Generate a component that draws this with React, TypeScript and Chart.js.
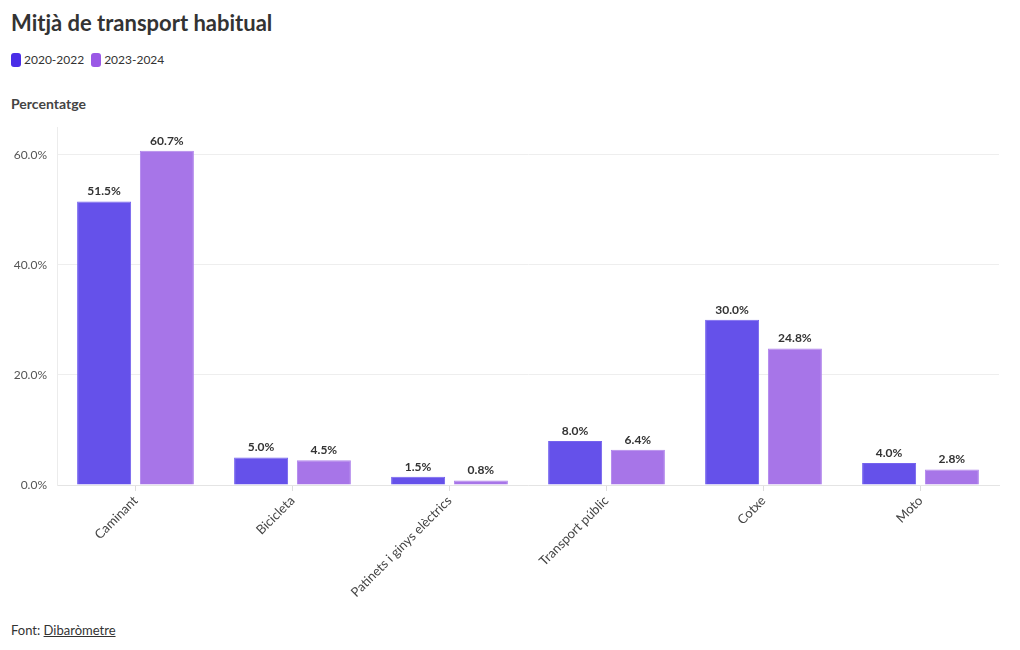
import React, { useEffect, useRef } from "react";
import { Chart, registerables } from "chart.js";

Chart.register(...registerables);

const categories = ["Caminant", "Bicicleta", "Patinets i ginys elèctrics", "Transport públic", "Cotxe", "Moto"];
const series2020 = [51.5, 5.0, 1.5, 8.0, 30.0, 4.0];
const series2023 = [60.7, 4.5, 0.8, 6.4, 24.8, 2.8];
const seriesNames = ["2020-2022", "2023-2024"];
const yTicks = [0, 20, 40, 60];

const FONT = "'Source Sans Pro', Lato, 'Open Sans', sans-serif";
const barColors = ["#6551ea", "#a775e8"];
const borderColors = ["#7563ee", "#b085ec"];
const legendColors = ["#4a2de8", "#9a58e6"];

const dataLabelPlugin = {
  id: "dataLabels",
  afterDatasetsDraw(chart: any) {
    const ctx = chart.ctx;
    ctx.save();
    ctx.font = `bold 12px ${FONT}`;
    ctx.fillStyle = "#333333";
    ctx.textAlign = "center";
    ctx.textBaseline = "bottom";
    chart.data.datasets.forEach((ds: any, di: number) => {
      const meta = chart.getDatasetMeta(di);
      meta.data.forEach((bar: any, i: number) => {
        const v = ds.data[i];
        ctx.fillText(v.toFixed(1) + "%", bar.x, bar.y - 4);
      });
    });
    ctx.restore();
  },
};

export default function App() {
  const ref = useRef<HTMLCanvasElement>(null);
  useEffect(() => {
    if (!ref.current) return;
    const chart = new Chart(ref.current, {
      type: "bar",
      data: {
        labels: categories,
        datasets: [series2020, series2023].map((d, i) => ({
          label: seriesNames[i],
          data: d,
          backgroundColor: barColors[i],
          borderColor: borderColors[i],
          borderWidth: 1,
          categoryPercentage: 0.8,
          barPercentage: 0.86,
        })),
      },
      options: {
        animation: false,
        responsive: false,
        maintainAspectRatio: false,
        layout: { padding: { top: 6, right: 11, left: 0, bottom: 0 } },
        plugins: { legend: { display: false }, tooltip: { enabled: false } },
        scales: {
          x: {
            afterFit: (s: any) => { s.height = 125; },
            border: { display: true, color: "#e4e4e4" },
            grid: { offset: false, drawOnChartArea: false, drawTicks: true, tickLength: 6, color: "#dddddd" },
            ticks: {
              minRotation: 45,
              maxRotation: 45,
              color: "#444444",
              font: { family: FONT, size: 13 },
              padding: 2,
            },
          },
          y: {
            min: 0,
            max: 65,
            afterFit: (s: any) => { s.width = 57; },
            afterBuildTicks: (s: any) => { s.ticks = yTicks.map((v) => ({ value: v })); },
            border: { display: true, color: "#ececec" },
            grid: { color: "#eeeeee", drawTicks: false },
            ticks: {
              color: "#555555",
              font: { family: FONT, size: 12 },
              padding: 10,
              callback: (v: any) => Number(v).toFixed(1) + "%",
            },
          },
        },
      },
      plugins: [dataLabelPlugin],
    });
    return () => chart.destroy();
  }, []);

  return (
    <div style={{ position: "absolute", left: 0, top: 0, width: 1020, height: 650, fontFamily: FONT, color: "#333", background: "#fff" }}>
      <div style={{ position: "absolute", left: 11, top: 9, fontSize: 22, fontWeight: 700, color: "#333", whiteSpace: "nowrap" }}>
        Mitjà de transport habitual
      </div>
      <div style={{ position: "absolute", left: 11, top: 52, display: "flex", alignItems: "center", fontSize: 12, color: "#333" }}>
        {seriesNames.map((n, i) => (
          <span key={n} style={{ display: "flex", alignItems: "center", marginRight: 7 }}>
            <span style={{ display: "inline-block", width: 10, height: 14, borderRadius: 3, background: legendColors[i], marginRight: 3 }} />
            {n}
          </span>
        ))}
      </div>
      <div style={{ position: "absolute", left: 11, top: 95, fontSize: 14, fontWeight: 700, color: "#444" }}>Percentatge</div>
      <canvas ref={ref} width={1010} height={500} style={{ position: "absolute", left: 0, top: 110, width: 1010, height: 500 }} />
      <div style={{ position: "absolute", left: 11, top: 622, fontSize: 13, color: "#333" }}>
        Font: <span style={{ textDecoration: "underline" }}>Dibaròmetre</span>
      </div>
    </div>
  );
}
